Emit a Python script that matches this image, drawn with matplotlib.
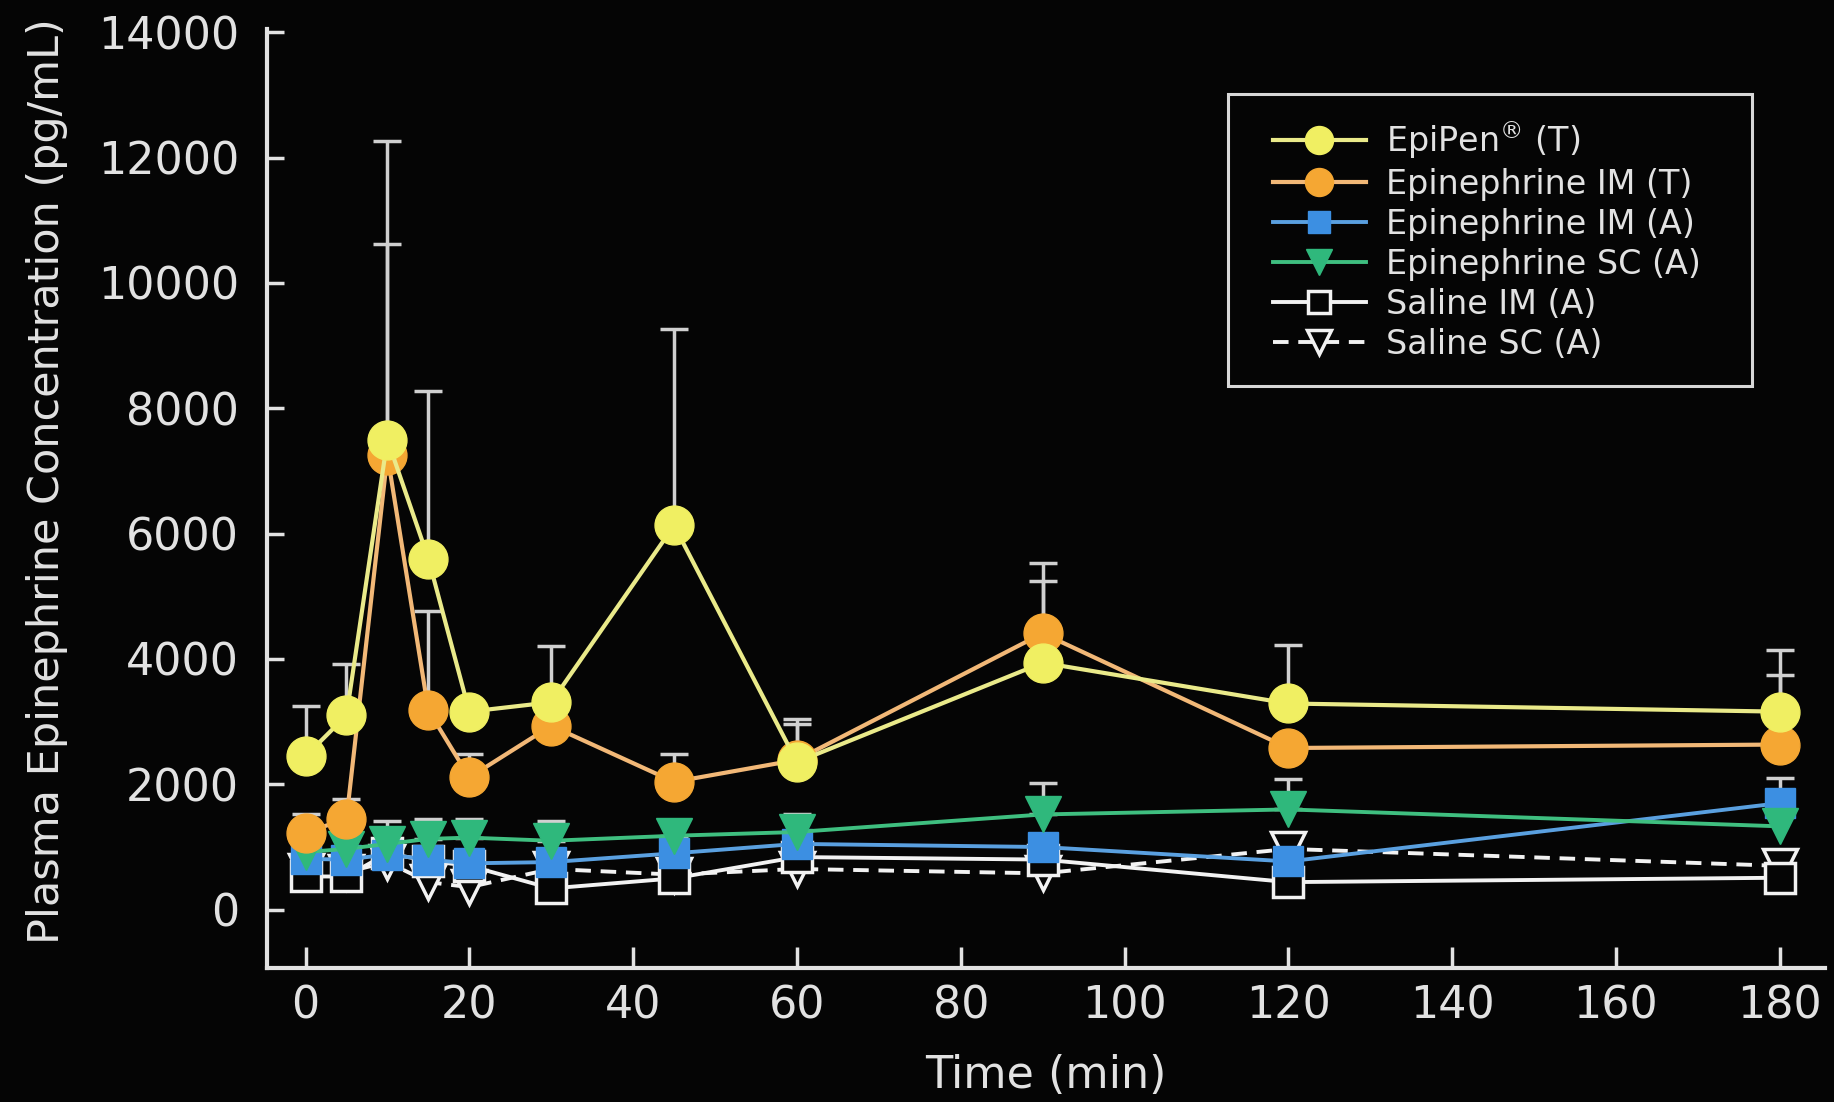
import numpy as np
import matplotlib
matplotlib.use("Agg")
import matplotlib.pyplot as plt
from matplotlib.patches import Rectangle

# sampling times (min)
times = [0, 5, 10, 15, 20, 30, 45, 60, 90, 120, 180]

# mean plasma epinephrine (pg/mL) and top of the upper error bar (nan = not visible)
epipen_T = [2450, 3100, 7500, 5600, 3160, 3310, 6130, 2355, 3940, 3290, 3160]
epipen_T_top = [3250, 3925, 12260, 8280, np.nan, 4200, 9270, 2960, 5250, 4220, 4150]

epi_im_T = [1230, 1450, 7250, 3180, 2110, 2935, 2040, 2390, 4410, 2580, 2635]
epi_im_T_top = [1520, 1760, 10620, 4770, 2490, np.nan, 2490, 3050, 5530, np.nan, 3750]

epi_im_A = [810, 800, 880, 800, 740, 760, 900, 1050, 1000, 770, 1700]
epi_im_A_top = [np.nan] * 10 + [2100]

epi_sc_A = [920, 970, 1050, 1130, 1150, 1100, 1180, 1240, 1520, 1600, 1330]
epi_sc_A_top = [np.nan, np.nan, 1420, 1450, 1450, 1420, 1420, 1520, 2020, 2080, np.nan]

saline_im_A = [530, 530, 900, 780, 700, 340, 500, 840, 800, 440, 510]
saline_sc_A = [620, 600, 760, 440, 360, 650, 560, 650, 580, 970, 700]

labels = [r"EpiPen$^{\circledR}$ (T)", "Epinephrine IM (T)", "Epinephrine IM (A)",
          "Epinephrine SC (A)", "Saline IM (A)", "Saline SC (A)"]

BG = "#050505"
FG = "#e2e2e2"
ERR = "#d0d0d0"

fig = plt.figure(figsize=(18.34, 11.02), dpi=100, facecolor=BG)
ax = fig.add_axes([0.1456, 0.1216, 0.8494, 0.852])
ax.set_facecolor(BG)


def errs(mean, top):
    m = np.array(mean, float); t = np.array(top, float)
    ok = ~np.isnan(t)
    x = np.array(times, float)[ok]
    ax.errorbar(x, m[ok], yerr=[np.zeros(ok.sum()), t[ok] - m[ok]], fmt="none",
                ecolor=ERR, elinewidth=2.5, capsize=10, capthick=2.5, zorder=1)


# error bars behind everything
errs(epipen_T, epipen_T_top)
errs(epi_im_T, epi_im_T_top)
errs(epi_im_A, epi_im_A_top)
errs(epi_sc_A, epi_sc_A_top)

h6, = ax.plot(times, saline_sc_A, ls=(0, (4, 2.5)), color="#f2f2f2", lw=2.8, marker="v", ms=24,
              mfc=BG, mec="#f2f2f2", mew=2.5, zorder=2, label=labels[5])
h5, = ax.plot(times, saline_im_A, "-", color="#f2f2f2", lw=2.8, marker="s", ms=22,
              mfc=BG, mec="#f2f2f2", mew=2.5, zorder=3, label=labels[4])
h3, = ax.plot(times, epi_im_A, "-", color="#5aa0e0", lw=2.8, marker="s", ms=22,
              mfc="#3c8fe2", mec="#3c8fe2", zorder=4, label=labels[2])
h4, = ax.plot(times, epi_sc_A, "-", color="#3fbf80", lw=2.8, marker="v", ms=26,
              mfc="#2fb87c", mec="#2fb87c", zorder=5, label=labels[3])
h2, = ax.plot(times, epi_im_T, "-", color="#f2b877", lw=3, marker="o", ms=28,
              mfc="#f5a733", mec="#f5a733", zorder=6, label=labels[1])
h1, = ax.plot(times, epipen_T, "-", color="#eaea8a", lw=3, marker="o", ms=28,
              mfc="#f0ef62", mec="#f0ef62", zorder=7, label=labels[0])

ax.set_xlim(-4.7, 185.5)
ax.set_ylim(-930, 14050)
ax.set_xticks(range(0, 181, 20))
ax.set_yticks(range(0, 14001, 2000))

for s in ("top", "right"):
    ax.spines[s].set_visible(False)
for s in ("left", "bottom"):
    ax.spines[s].set_color(FG)
    ax.spines[s].set_linewidth(3)

ax.tick_params(axis="both", direction="in", colors=FG, width=2.5, labelsize=32)
ax.tick_params(axis="y", length=12, pad=20)
ax.tick_params(axis="x", length=15, pad=12)

ax.set_xlabel("Time (min)", color=FG, fontsize=32, labelpad=19)
ax.set_ylabel("Plasma Epinephrine Concentration (pg/mL)", color=FG, fontsize=31)
ax.yaxis.set_label_coords(-0.128, 0.519)

# legend box drawn by hand so its padding matches the original
ax.add_patch(Rectangle((0.6696, 0.6497), 0.2857, 0.265, transform=fig.transFigure,
                       facecolor=BG, edgecolor="#d8d8d8", lw=2.2, zorder=9, clip_on=False))
leg = ax.legend(handles=[h1, h2, h3, h4, h5, h6], loc="upper left",
                bbox_to_anchor=(0.694, 0.892), bbox_transform=fig.transFigure,
                fontsize=24, markerscale=0.72, handlelength=2.8, handletextpad=0.6,
                labelspacing=0.21, borderpad=0, borderaxespad=0, frameon=False)
leg.set_zorder(11)
for t in leg.get_texts():
    t.set_color(FG)

fig.savefig("out.png", dpi=100, facecolor=BG)
